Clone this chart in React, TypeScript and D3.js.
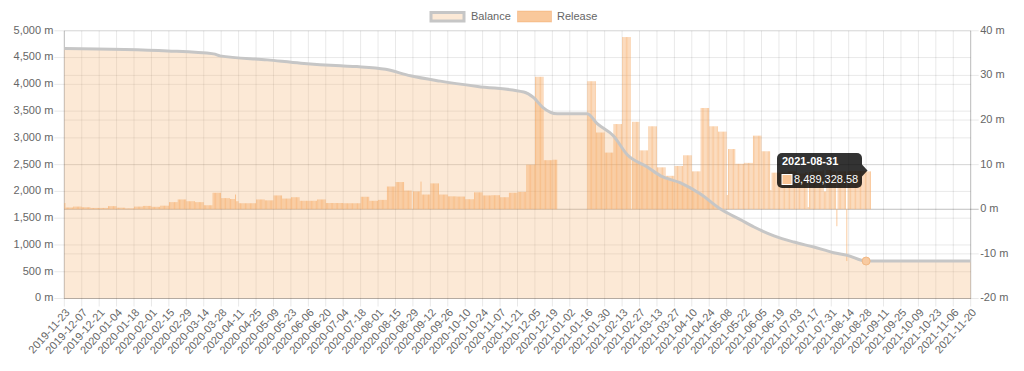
import React from "react";
import * as d3 from "d3";

const START_DATE = "2019-11-23";
const END_DATE = "2021-11-20";
const RELEASE_LAST_DATE = "2021-08-31";
const TICK_EVERY_DAYS = 14;

// Release (millions per day) for each 7-day block starting 2019-11-23
const releaseWeekly = [
  0.4, 0.6, 0.45, 0.3, 0.3, 0.7, 0.35, 0.2, 0.6, 0.75,
  0.55, 0.8, 1.6, 2.2, 1.8, 1.6, 0.9, 3.7, 2.5, 2.3,
  1.35, 1.35, 2.2, 2.0, 3.1, 2.4, 2.7, 1.9, 1.9, 2.2,
  1.4, 1.4, 1.35, 1.35, 2.8, 1.9, 2.1, 5.1, 6.1, 4.2,
  4.0, 3.3, 5.8, 3.3, 2.9, 2.85, 2.25, 3.8, 3.1, 3.15,
  2.7, 3.7, 3.9, 10.0, 29.7, 11.0, 11.1, 0, 0, 0,
  28.7, 17.2, 12.7, 19.1, 38.6, 19.6, 13.2, 18.6, 9.4, 7.5,
  9.7, 12.1, 8.5, 22.7, 18.6, 17.4, 13.5, 10.2, 10.4, 16.5,
  13.0, 8.2, 8.2, 8.5, 8.0, 8.3, 8.5, 8.8, 8.5, 8.5,
  8.6, 8.6, 8.49,
];

// Single days that differ from their block
const releaseDayDates = [
  "2019-11-23", "2020-04-08", "2020-04-09", "2020-04-10", "2020-08-28", "2020-09-04",
  "2020-12-23", "2020-12-24", "2020-12-25", "2021-02-20", "2021-05-08", "2021-06-12",
  "2021-07-12", "2021-07-25", "2021-07-26", "2021-08-04", "2021-08-12",
];
const releaseDayValues = [
  1.4, 3.3, 1.8, 1.8, 0, 6.2,
  0, 0, 0, 0, 3.2, 4.3,
  0.5, 4.0, 4.0, -3.8, -11.6,
];

const balanceDates = [
  "2019-11-23", "2020-02-14", "2020-03-22", "2020-03-27", "2020-05-04", "2020-05-31",
  "2020-07-02", "2020-07-15", "2020-08-07", "2020-08-27", "2020-09-20", "2020-10-20",
  "2020-11-26", "2020-12-04", "2020-12-11", "2020-12-23", "2021-01-16", "2021-01-24",
  "2021-02-06", "2021-02-17", "2021-03-05", "2021-03-16", "2021-04-01", "2021-04-17",
  "2021-05-03", "2021-05-19", "2021-05-30", "2021-06-15", "2021-07-01", "2021-07-17",
  "2021-08-02", "2021-08-13", "2021-08-28", "2021-11-20",
];
const balanceValues = [
  4670, 4625, 4569, 4532, 4457, 4395,
  4345, 4331, 4281, 4160, 4060, 3960,
  3858, 3750, 3576, 3450, 3450, 3265,
  3040, 2690, 2460, 2290, 2159, 1950,
  1670, 1473, 1335, 1170, 1054, 961,
  856, 805, 700, 700,
];

const leftTicks = [0, 500, 1000, 1500, 2000, 2500, 3000, 3500, 4000, 4500, 5000];
const rightTicks = [-20, -10, 0, 10, 20, 30, 40];

const hoverBalanceDate = "2021-08-28";
const tooltipTitle = "2021-08-31";
const tooltipValue = 8489328.58;

const FONT = "'Liberation Sans', Arial, Helvetica, sans-serif";
const W = 1024;
const H = 371;
const L = 64.3;
const R = 970.7;
const T = 30.8;
const B = 298.5;

const parse = d3.utcParse("%Y-%m-%d");
const fmtDate = d3.utcFormat("%Y-%m-%d");

export default function App() {
  const start = parse(START_DATE)!;
  const end = parse(END_DATE)!;
  const x = d3.scaleUtc().domain([start, end]).range([L, R]);
  const yL = d3.scaleLinear().domain([0, 5000]).range([B, T]);
  const yR = d3.scaleLinear().domain([-20, 40]).range([B, T]);

  const tickDates = d3
    .range(0, d3.utcDay.count(start, end) + 1, TICK_EVERY_DAYS)
    .map((d) => d3.utcDay.offset(start, d));

  const overrides = new Map<string, number>();
  releaseDayDates.forEach((d, i) => overrides.set(d, releaseDayValues[i]));
  const lastDay = d3.utcDay.count(start, parse(RELEASE_LAST_DATE)!);
  const bars = d3.range(0, lastDay + 1).map((i) => {
    const date = d3.utcDay.offset(start, i);
    const key = fmtDate(date);
    const v = overrides.has(key) ? overrides.get(key)! : releaseWeekly[Math.floor(i / 7)];
    return { date, next: d3.utcDay.offset(date, 1), v };
  });

  const balance = balanceDates.map((d, i) => ({ date: parse(d)!, v: balanceValues[i] }));
  const line = d3
    .line<{ date: Date; v: number }>()
    .x((d) => x(d.date))
    .y((d) => yL(d.v))
    .curve(d3.curveMonotoneX);
  const area = d3
    .area<{ date: Date; v: number }>()
    .x((d) => x(d.date))
    .y0(B)
    .y1((d) => yL(d.v))
    .curve(d3.curveMonotoneX);

  const grid = "rgba(0,0,0,0.09)";
  const barFill = "rgba(245,160,82,0.58)";
  const hb = balance.find((b) => fmtDate(b.date) === hoverBalanceDate)!;
  const fmtNum = d3.format(",.2f");

  return (
    <svg width={W} height={H} style={{ position: "absolute", left: 0, top: 0 }} fontFamily={FONT}>
      <rect x={0} y={0} width={W} height={H} fill="#fff" />
      {leftTicks.map((t) => (
        <g key={"l" + t}>
          <line x1={L - 10} x2={R} y1={yL(t)} y2={yL(t)} stroke={grid} />
          <text x={L - 11} y={yL(t)} textAnchor="end" dominantBaseline="middle" fontSize={11} fill="#666">
            {d3.format(",")(t) + " m"}
          </text>
        </g>
      ))}
      {rightTicks.map((t) => (
        <g key={"r" + t}>
          <line x1={L} x2={R + 8} y1={yR(t)} y2={yR(t)} stroke={t === 0 ? "rgba(0,0,0,0.25)" : grid} />
          <text x={R + 9.5} y={yR(t)} dominantBaseline="middle" fontSize={11} fill="#666">
            {t + " m"}
          </text>
        </g>
      ))}
      {tickDates.map((d, i) => (
        <g key={"x" + i}>
          <line x1={x(d)} x2={x(d)} y1={T} y2={B + 8} stroke={grid} />
          <text
            transform={`translate(${x(d) + 4},${B + 12.5}) rotate(-48)`}
            textAnchor="end"
            dominantBaseline="middle"
            fontSize={11}
            fill="#666"
          >
            {fmtDate(d)}
          </text>
        </g>
      ))}
      <line x1={L} x2={L} y1={T} y2={B} stroke="rgba(0,0,0,0.2)" />
      <line x1={R} x2={R} y1={T} y2={B} stroke="rgba(0,0,0,0.2)" />
      <line x1={L} x2={R} y1={B} y2={B} stroke="rgba(0,0,0,0.2)" />

      <path d={area(balance)!} fill="rgba(246,183,120,0.3)" />

      {bars.map((b, i) => {
        const x0 = x(b.date);
        const x1 = x(b.next);
        const y0 = yR(Math.max(0, b.v));
        const y1 = yR(Math.min(0, b.v));
        return (
          <rect
            key={"b" + i}
            x={x0 + 0.15}
            width={x1 - x0 - 0.3}
            y={y0}
            height={Math.max(0, y1 - y0)}
            fill={barFill}
          />
        );
      })}

      <path d={line(balance)!} fill="none" stroke="#c6c6c6" strokeWidth={3} />
      <circle cx={x(hb.date)} cy={yL(hb.v)} r={4} fill="#f8caa0" stroke="#f2b985" strokeWidth={1} />

      <rect x={431} y={12.5} width={33} height={8.5} fill="rgba(246,183,120,0.3)" stroke="#c6c6c6" strokeWidth={3} />
      <text x={471} y={17} dominantBaseline="middle" fontSize={11} fill="#666">Balance</text>
      <rect x={517.5} y={11} width={34} height={11} fill={barFill} stroke="rgba(235,140,60,0.3)" strokeWidth={1} />
      <text x={557} y={17} dominantBaseline="middle" fontSize={11} fill="#666">Release</text>

      <g>
        <rect x={777} y={153} width={85} height={35} rx={5} fill="rgba(0,0,0,0.8)" />
        <path d="M862,164.5 L867.5,170.5 L862,176.5 Z" fill="rgba(0,0,0,0.8)" />
        <text x={782} y={162} dominantBaseline="middle" fontSize={11} fontWeight="bold" fill="#fff">
          {tooltipTitle}
        </text>
        <rect x={782} y={174.5} width={10} height={10} fill="rgb(249,197,150)" stroke="#fff" strokeWidth={1} />
        <text x={794} y={180} dominantBaseline="middle" fontSize={11} fill="#fff">
          {fmtNum(tooltipValue)}
        </text>
      </g>
    </svg>
  );
}
